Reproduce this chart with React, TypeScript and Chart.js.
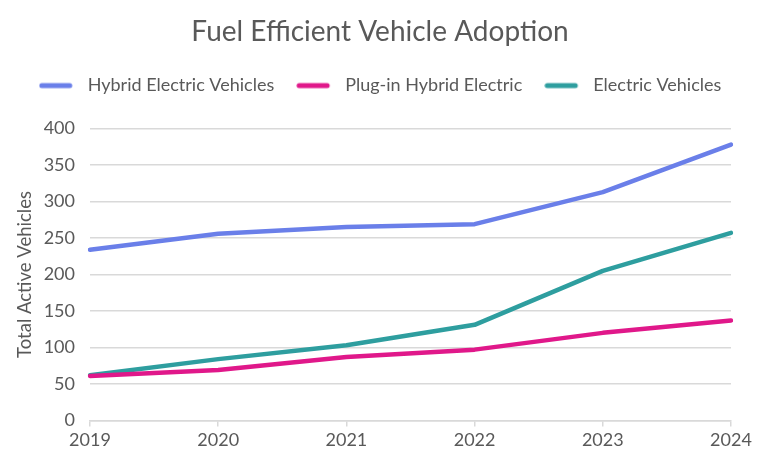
import React, { useEffect, useRef } from "react";
import { Chart, registerables } from "chart.js";

Chart.register(...registerables);

const years = ["2019", "2020", "2021", "2022", "2023", "2024"];
const hybridElectric = [234, 256, 265, 269, 313, 378];
const plugInHybrid = [61, 69, 87, 97, 120, 137];
const electricVehicles = [62, 84, 103, 131, 205, 257];
const yTicks = [0, 50, 100, 150, 200, 250, 300, 350, 400];

const FONT = "Lato, 'Open Sans', sans-serif";
const TEXT = "#595959";
const GRID = "#d9d9d9";
const COLORS = ["#6a7fe9", "#e0188a", "#2e9e9f"];

function legendSwatch(color: string) {
  const c = document.createElement("canvas");
  c.width = 40;
  c.height = 8;
  const ctx = c.getContext("2d")!;
  ctx.strokeStyle = color;
  ctx.lineWidth = 5;
  ctx.lineCap = "round";
  ctx.beginPath();
  ctx.moveTo(3, 4);
  ctx.lineTo(31, 4);
  ctx.stroke();
  return c;
}

export default function App() {
  const ref = useRef<HTMLCanvasElement | null>(null);

  useEffect(() => {
    if (!ref.current) return;
    const swatches = COLORS.map(legendSwatch);
    const mk = (label: string, data: number[], color: string) => ({
      label,
      data,
      borderColor: color,
      backgroundColor: color,
      borderWidth: 4.5,
      borderCapStyle: "round" as const,
      borderJoinStyle: "round" as const,
      pointRadius: 0,
      tension: 0,
      fill: false,
      yAxisID: "y",
    });
    const legendPad = {
      id: "legendPad",
      beforeInit(chart: any) {
        const lg = chart.legend;
        if (!lg) return;
        const fit = lg.fit;
        lg.fit = function () {
          fit.bind(lg)();
          lg.height += 24;
        };
      },
    };
    const chart = new Chart(ref.current, {
      type: "line",
      data: {
        labels: years,
        datasets: [
          mk("Hybrid Electric Vehicles", hybridElectric, COLORS[0]),
          mk("Plug-in Hybrid Electric", plugInHybrid, COLORS[1]),
          mk("Electric Vehicles", electricVehicles, COLORS[2]),
        ],
      },
      plugins: [legendPad],
      options: {
        animation: false,
        responsive: false,
        maintainAspectRatio: false,
        layout: { padding: { left: 0, right: 12, top: 15, bottom: 16 } },
        plugins: {
          title: {
            display: true,
            text: "Fuel Efficient Vehicle Adoption",
            color: TEXT,
            font: { family: FONT, size: 28, weight: "normal" },
            padding: { top: 0, bottom: 6 },
          },
          legend: {
            display: true,
            position: "top",
            labels: {
              usePointStyle: true,
              pointStyleWidth: 40,
              boxHeight: 8,
              color: TEXT,
              font: { family: FONT, size: 18 },
              padding: 22,
              generateLabels: (ch: any) => {
                const items = Chart.defaults.plugins.legend.labels.generateLabels(ch);
                return items.map((it: any, i: number) => ({ ...it, pointStyle: swatches[i] }));
              },
            },
          },
          tooltip: { enabled: false },
        },
        scales: {
          x: {
            type: "category",
            offset: false,
            grid: {
              display: true,
              drawOnChartArea: false,
              drawTicks: true,
              tickLength: 6,
              color: GRID,
              lineWidth: 1.5,
            },
            border: { display: true, color: GRID, width: 1.5 },
            ticks: {
              color: TEXT,
              font: { family: FONT, size: 18 },
              padding: 3,
              maxRotation: 0,
            },
          },
          y: {
            min: 0,
            max: 400,
            afterBuildTicks: (axis: any) => {
              axis.ticks = yTicks.map((v) => ({ value: v }));
            },
            afterFit: (axis: any) => {
              axis.width = 90;
            },
            grid: { color: GRID, lineWidth: 1.5, drawTicks: false },
            border: { display: false },
            ticks: {
              color: TEXT,
              font: { family: FONT, size: 18 },
              padding: 15,
            },
            title: {
              display: true,
              text: "Total Active Vehicles",
              color: TEXT,
              font: { family: FONT, size: 18.5 },
              padding: { top: 14, bottom: 9 },
            },
          },
          yRight: {
            position: "right",
            min: 0,
            max: 400,
            display: true,
            grid: { display: false, drawOnChartArea: false },
            border: { display: false },
            ticks: { display: false },
            afterFit: (axis: any) => {
              axis.width = 29;
            },
          },
        },
      },
    });
    return () => chart.destroy();
  }, []);

  return (
    <div style={{ position: "fixed", left: 0, top: 0, width: 772, height: 470, background: "#fff" }}>
      <canvas ref={ref} width={772} height={470} style={{ width: 772, height: 470 }} />
    </div>
  );
}
